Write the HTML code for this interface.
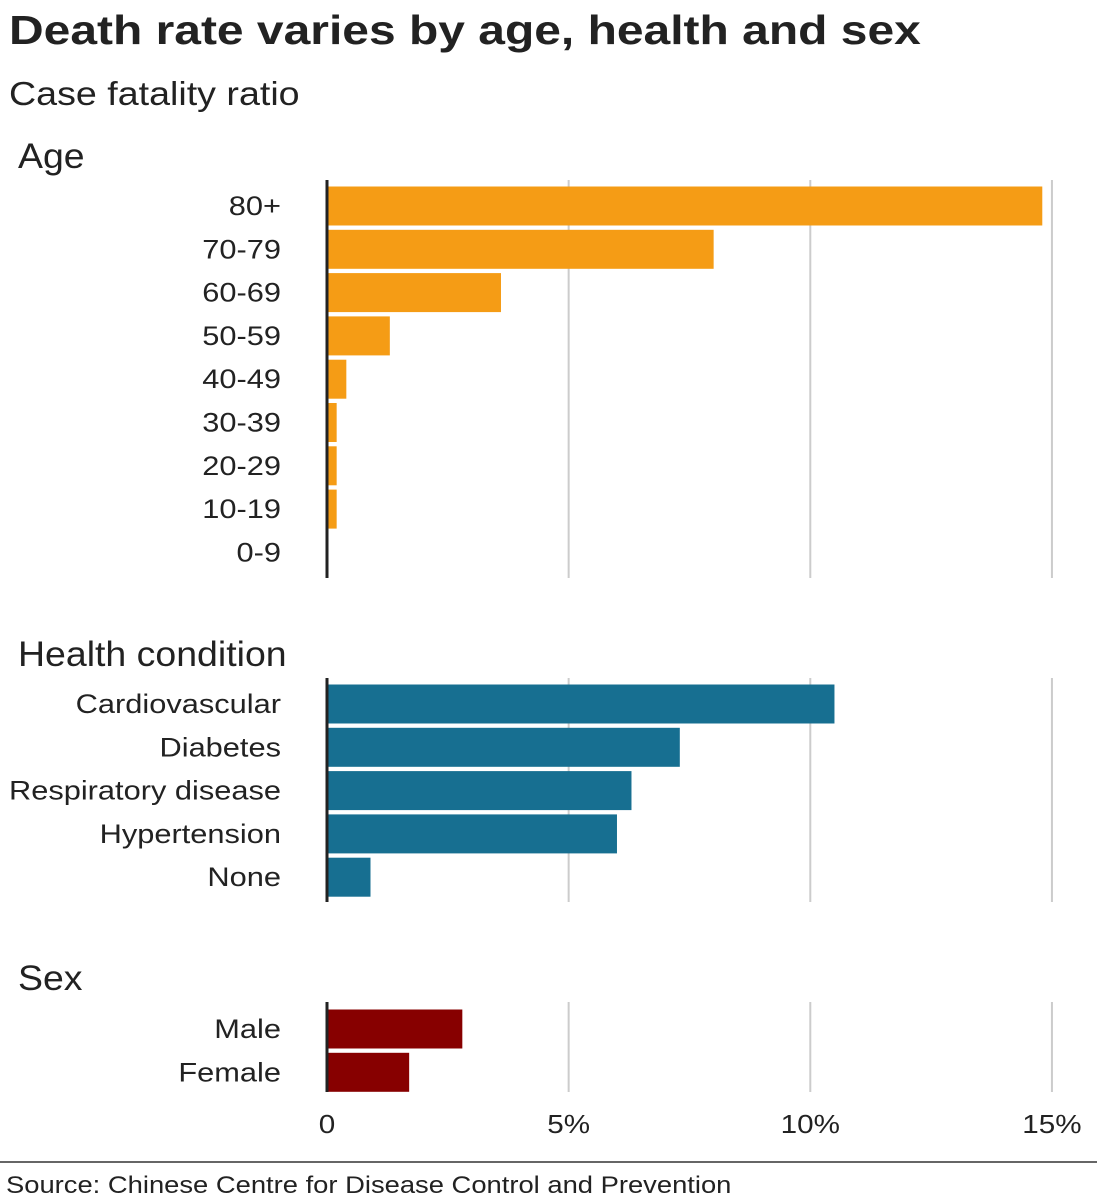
<!DOCTYPE html>
<html><head><meta charset="utf-8"><style>
body{margin:0;background:#fff;width:1097px;height:1200px;overflow:hidden;font-family:"Liberation Sans",sans-serif;}
svg{display:block}
</style></head><body>
<svg id="c" width="1097" height="1200">
<text x="9" y="44" font-size="41" font-weight="bold" fill="#222" data-stretch="1.17">Death rate varies by age, health and sex</text>
<text x="9" y="105" font-size="33" fill="#222">Case fatality ratio</text>
<line x1="0" y1="1162" x2="1097" y2="1162" stroke="#333" stroke-width="1.5"/>
<text x="6" y="1193" font-size="24" fill="#222">Source: Chinese Centre for Disease Control and Prevention</text>
</svg>
<script>
const ageCats=["80+","70-79","60-69","50-59","40-49","30-39","20-29","10-19","0-9"];
const ageVals=[14.8,8.0,3.6,1.3,0.4,0.2,0.2,0.2,0];
const healthCats=["Cardiovascular","Diabetes","Respiratory disease","Hypertension","None"];
const healthVals=[10.5,7.3,6.3,6.0,0.9];
const sexCats=["Male","Female"];
const sexVals=[2.8,1.7];
const ticks=[0,5,10,15];
const tickLabels=["0","5%","10%","15%"];
const NS="http://www.w3.org/2000/svg";
const svg=document.getElementById('c');
const x=v=>327+v*48.33;
function mk(t,a,p){const e=document.createElementNS(NS,t);for(const k in a)e.setAttribute(k,a[k]);(p||svg).appendChild(e);return e;}
const panels=[
 {title:"Age",ty:168,cats:ageCats,vals:ageVals,color:"#f59c15",top:180,bottom:578,first:206,name:"age"},
 {title:"Health condition",ty:666,cats:healthCats,vals:healthVals,color:"#176f91",top:678,bottom:902,first:704,name:"health"},
 {title:"Sex",ty:990,cats:sexCats,vals:sexVals,color:"#870000",top:1002,bottom:1092,first:1029,name:"sex"}
];
const pitch=43.3,bh=39;
panels.forEach(p=>{
 const g=mk('g',{});
 
 
 const t=mk('text',{x:18,y:p.ty,'font-size':35,fill:'#222','data-stretch':'1.07'},g);t.textContent=p.title;
 
 
 ticks.slice(1).forEach(v=>{
  const l=mk('line',{x1:x(v),x2:x(v),y1:p.top,y2:p.bottom,stroke:'#ccc','stroke-width':2},g);
  
  
 });
 p.cats.forEach((c,i)=>{
  const cy=p.first+i*pitch;
  const r=mk('rect',{x:x(0),y:cy-bh/2,width:Math.max(0,x(p.vals[i])-x(0)),height:bh,fill:p.color},g);
  
  
  const lb=mk('text',{x:281,y:cy+9,'font-size':27,fill:'#222','text-anchor':'end'},g);lb.textContent=c;
  
  
 });
 const ax=mk('line',{x1:327,x2:327,y1:p.top,y2:p.bottom,stroke:'#222','stroke-width':3},g);
 
 
});
ticks.forEach((v,i)=>{
 const t=mk('text',{x:x(v),y:1133,'font-size':26,fill:'#222','text-anchor':'middle'});
 t.textContent=tickLabels[i];
 
 
});
svg.querySelectorAll('text').forEach(t=>{
 const f=parseFloat(t.getAttribute('data-stretch')||'1.14');
 const w=t.getComputedTextLength();
 if(w>0){t.setAttribute('textLength',(w*f).toFixed(1));t.setAttribute('lengthAdjust','spacingAndGlyphs');}
});
</script>
</body></html>
